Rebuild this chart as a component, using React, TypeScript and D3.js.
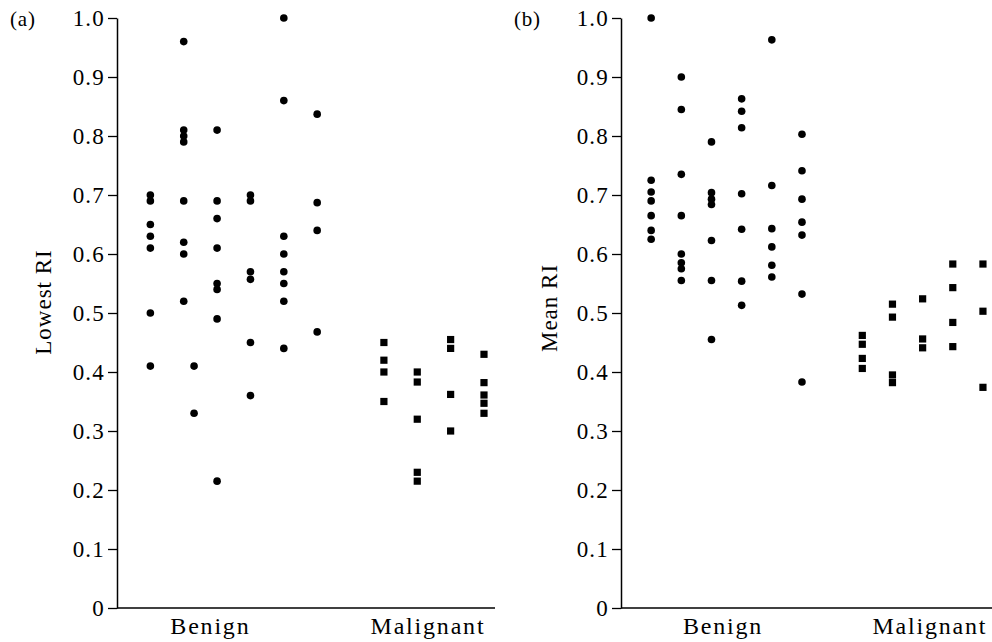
import React, { useEffect, useRef } from 'react';
import * as d3 from 'd3';

// y axis ticks, shared by both panels
const yTicks = [0, 0.1, 0.2, 0.3, 0.4, 0.5, 0.6, 0.7, 0.8, 0.9, 1.0];
const categories = ['Benign', 'Malignant'];

// (a) lowest RI, one array per column of dots
const lowestBenign = [
  [0.70, 0.69, 0.65, 0.63, 0.61, 0.50, 0.41],
  [0.96, 0.81, 0.80, 0.79, 0.69, 0.62, 0.60, 0.52],
  [0.41, 0.33],
  [0.81, 0.69, 0.66, 0.61, 0.55, 0.54, 0.49, 0.215],
  [0.70, 0.69, 0.57, 0.557, 0.45, 0.36],
  [1.00, 0.86, 0.63, 0.60, 0.57, 0.55, 0.52, 0.44],
  [0.837, 0.687, 0.64, 0.468],
];
const lowestBenignSlots = [1, 2, 2.31, 3, 4, 5, 6];

const lowestMalignant = [
  [0.45, 0.42, 0.40, 0.35],
  [0.40, 0.383, 0.32, 0.23, 0.215],
  [0.455, 0.44, 0.362, 0.30],
  [0.43, 0.382, 0.361, 0.347, 0.33],
];
const lowestMalignantSlots = [8, 9, 10, 11];

// (b) mean RI
const meanBenign = [
  [1.00, 0.725, 0.705, 0.69, 0.665, 0.64, 0.625],
  [0.90, 0.845, 0.735, 0.665, 0.60, 0.585, 0.575, 0.555],
  [0.79, 0.704, 0.693, 0.684, 0.623, 0.555, 0.455],
  [0.863, 0.842, 0.814, 0.702, 0.642, 0.554, 0.513],
  [0.963, 0.716, 0.643, 0.612, 0.581, 0.561],
  [0.803, 0.741, 0.693, 0.654, 0.632, 0.532, 0.383],
];
const meanBenignSlots = [1, 2, 3, 4, 5, 6];

const meanMalignant = [
  [0.462, 0.447, 0.423, 0.406],
  [0.515, 0.493, 0.395, 0.382],
  [0.524, 0.456, 0.441],
  [0.583, 0.543, 0.484, 0.443],
  [0.583, 0.503, 0.374],
];
const meanMalignantSlots = [8, 9, 10, 11, 12];

const FONT = '"Liberation Serif", "Times New Roman", serif';

const panels = [
  {
    tag: '(a)', title: 'Lowest RI',
    benign: lowestBenign, benignSlots: lowestBenignSlots,
    malignant: lowestMalignant, malignantSlots: lowestMalignantSlots,
    left: 117, right: 495, maxSlot: 11.33,
    tagX: 10, titleX: 43, titleY: 302, labelSlots: [2.8, 9.32],
  },
  {
    tag: '(b)', title: 'Mean RI',
    benign: meanBenign, benignSlots: meanBenignSlots,
    malignant: meanMalignant, malignantSlots: meanMalignantSlots,
    left: 621, right: 992, maxSlot: 12.3,
    tagX: 514, titleX: 549, titleY: 308, labelSlots: [3.38, 10.24],
  },
];

const width = 992;
const height = 642;
const top = 18;
const bottom = 608;

export default function App() {
  const node = useRef<SVGSVGElement>(null);

  useEffect(() => {
    const svg = d3.select(node.current);
    svg.selectAll('*').remove();

    const y = d3.scaleLinear().domain([0, 1]).range([bottom, top]);

    panels.forEach(p => {
      const x = d3.scaleLinear().domain([0, p.maxSlot]).range([p.left, p.right]);
      const g = svg.append('g');

      // y axis
      g.append('g')
        .attr('transform', `translate(${p.left},0)`)
        .call(d3.axisLeft(y)
          .tickValues(yTicks)
          .tickFormat(d => (+d === 0 ? '0' : d3.format('.1f')(+d)))
          .tickSize(9)
          .tickSizeOuter(0)
          .tickPadding(3))
        .attr('font-family', FONT)
        .attr('font-size', 23)
        .call(a => a.selectAll('text').attr('fill', '#000').attr('letter-spacing', 1.2))
        .call(a => a.selectAll('line').attr('stroke', '#000').attr('stroke-width', 1.3))
        .call(a => a.select('.domain').attr('stroke', '#000').attr('stroke-width', 1.5));

      // x axis line
      g.append('line')
        .attr('x1', x(0)).attr('x2', x(p.maxSlot))
        .attr('y1', y(0)).attr('y2', y(0))
        .attr('stroke', '#000').attr('stroke-width', 1.5);

      categories.forEach((c, i) => {
        g.append('text')
          .attr('x', x(p.labelSlots[i]))
          .attr('y', 634)
          .attr('text-anchor', 'middle')
          .attr('font-family', FONT)
          .attr('font-size', 24)
          .attr('letter-spacing', 1.8)
          .text(c);
      });

      g.append('text')
        .attr('x', p.tagX).attr('y', 26)
        .attr('font-family', FONT).attr('font-size', 21)
        .attr('letter-spacing', 0.8)
        .text(p.tag);

      g.append('text')
        .attr('transform', `translate(${p.titleX},${p.titleY}) rotate(-90)`)
        .attr('text-anchor', 'middle')
        .attr('dy', '0.35em')
        .attr('font-family', FONT).attr('font-size', 23)
        .attr('letter-spacing', 1)
        .text(p.title);

      // benign dots
      p.benign.forEach((col, i) => {
        g.selectAll(null).data(col).enter()
          .append('circle')
          .attr('cx', x(p.benignSlots[i]))
          .attr('cy', d => y(d))
          .attr('r', 3.8)
          .attr('fill', '#000');
      });

      // malignant squares
      p.malignant.forEach((col, i) => {
        g.selectAll(null).data(col).enter()
          .append('rect')
          .attr('x', x(p.malignantSlots[i]) - 3.6)
          .attr('y', d => y(d) - 3.6)
          .attr('width', 7.2)
          .attr('height', 7.2)
          .attr('fill', '#000');
      });
    });
  }, []);

  return (
    <svg
      ref={node}
      width={width}
      height={height}
      style={{ position: 'absolute', left: 0, top: 0, background: '#fff' }}
    />
  );
}
